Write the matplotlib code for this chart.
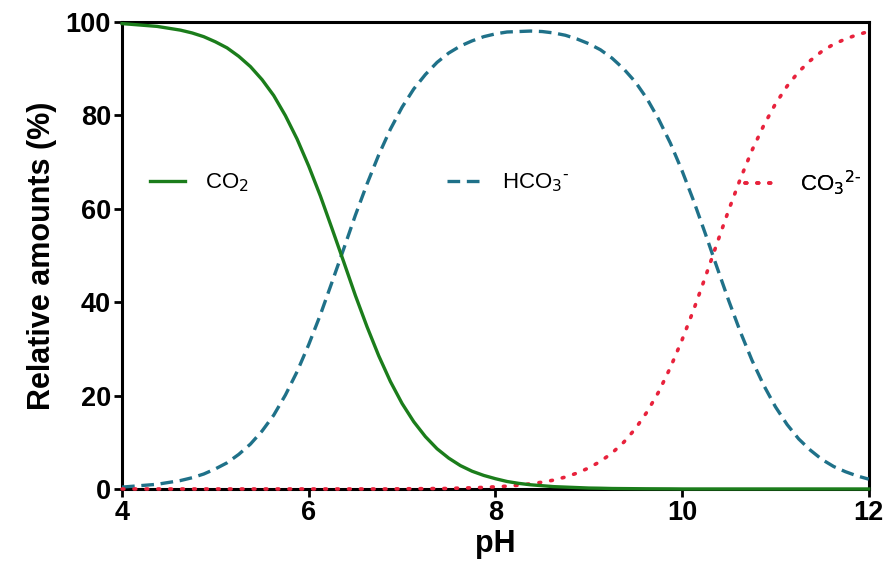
import matplotlib.pyplot as plt

# values, pH 4..12 in 0.125 steps
ph = [4.0, 4.125, 4.25, 4.375, 4.5, 4.625, 4.75, 4.875, 5.0, 5.125, 5.25,
      5.375, 5.5, 5.625, 5.75, 5.875, 6.0, 6.125, 6.25, 6.375, 6.5, 6.625,
      6.75, 6.875, 7.0, 7.125, 7.25, 7.375, 7.5, 7.625, 7.75, 7.875, 8.0,
      8.125, 8.25, 8.375, 8.5, 8.625, 8.75, 8.875, 9.0, 9.125, 9.25, 9.375,
      9.5, 9.625, 9.75, 9.875, 10.0, 10.125, 10.25, 10.375, 10.5, 10.625,
      10.75, 10.875, 11.0, 11.125, 11.25, 11.375, 11.5, 11.625, 11.75,
      11.875, 12.0]
co2 = [99.6, 99.4, 99.2, 99.0, 98.6, 98.2, 97.6, 96.8, 95.7, 94.4, 92.6,
       90.4, 87.6, 84.2, 79.9, 74.9, 69.1, 62.7, 55.7, 48.6, 41.4, 34.7,
       28.5, 23.0, 18.3, 14.4, 11.2, 8.6, 6.6, 5.0, 3.8, 2.9, 2.2,
       1.6, 1.2, 0.9, 0.7, 0.5, 0.4, 0.3, 0.2, 0.16, 0.1, 0.08,
       0.06, 0.04, 0.03, 0.02, 0.0, 0.0, 0.0, 0.0, 0.0, 0.0,
       0.0, 0.0, 0.0, 0.0, 0.0, 0.0, 0.0, 0.0, 0.0,
       0.0, 0.0]
hco3 = [0.4, 0.6, 0.8, 1.0, 1.4, 1.8, 2.4, 3.2, 4.3, 5.6, 7.4,
        9.6, 12.4, 15.8, 20.1, 25.1, 30.9, 37.3, 44.3, 51.4, 58.6, 65.3,
        71.5, 77.0, 81.7, 85.6, 88.7, 91.3, 93.3, 94.8, 95.9, 96.8, 97.4,
        97.8, 97.9, 98.0, 97.9, 97.6, 97.1, 96.3, 95.3, 94.0, 92.2, 89.9,
        87.1, 83.5, 79.1, 74.0, 68.1, 61.6, 54.6, 47.4, 40.3, 33.6,
        27.5, 22.2, 17.6, 13.8, 10.7, 8.3, 6.3, 4.8, 3.7,
        2.8, 2.1]
co3 = [0.0, 0.0, 0.0, 0.0, 0.0, 0.0, 0.0, 0.0, 0.0, 0.0, 0.0,
       0.0, 0.0, 0.0, 0.0, 0.0, 0.0, 0.0, 0.0, 0.0, 0.0, 0.0,
       0.0, 0.0, 0.04, 0.05, 0.07, 0.1, 0.1, 0.2, 0.25, 0.34, 0.46,
       0.6, 0.8, 1.1, 1.45, 1.9, 2.55, 3.4, 4.5, 5.9, 7.7, 10.0,
       12.9, 16.5, 20.8, 26.0, 31.9, 38.4, 45.4, 52.6, 59.7, 66.4,
       72.5, 77.8, 82.4, 86.2, 89.3, 91.7, 93.7, 95.2, 96.3,
       97.2, 97.9]

plt.rcParams['font.family'] = ['Liberation Sans', 'DejaVu Sans']

green = '#1b7d1b'
teal = '#1f7189'
red = '#e8223c'

fig = plt.figure(figsize=(8.91, 5.87), dpi=100)
ax = fig.add_axes([0.137, 0.167, 0.838, 0.796])

l1, = ax.plot(ph, co2, color=green, lw=2.4, zorder=4, clip_on=False)
l2, = ax.plot(ph, hco3, color=teal, lw=2.4, ls=(0, (3.8, 2.0)), zorder=3, clip_on=False)
l3, = ax.plot(ph, co3, color=red, lw=2.6, ls=(0, (0.5, 2.8)), zorder=3,
              clip_on=False, dash_capstyle='round')

ax.set_xlim(4, 12)
ax.set_ylim(0, 100)
ax.set_xticks([4, 6, 8, 10, 12])
ax.set_yticks([0, 20, 40, 60, 80, 100])

for s in ax.spines.values():
    s.set_linewidth(2.2)
ax.tick_params(width=2, length=6, labelsize=19.5, pad=2)
for lab in ax.get_xticklabels() + ax.get_yticklabels():
    lab.set_fontweight('bold')

ax.set_xlabel('pH', fontsize=22, fontweight='bold', labelpad=2)
ax.set_ylabel('Relative amounts (%)', fontsize=22, fontweight='bold', labelpad=6)

# three separate legend entries placed in a row
entries = [(l1, 'CO$_2$', 0.025),
           (l2, r'HCO$_3$$^{\text{-}}$', 0.423),
           (l3, r'CO$_3$$^{\text{2-}}$', 0.822)]
for h, txt, xpos in entries:
    leg = ax.legend([h], [txt], loc='center left', bbox_to_anchor=(xpos, 0.655),
                    frameon=False, fontsize=16, handlelength=1.6, handletextpad=0.9,
                    borderaxespad=0)
    ax.add_artist(leg)

fig.savefig('out.png', dpi=100)
